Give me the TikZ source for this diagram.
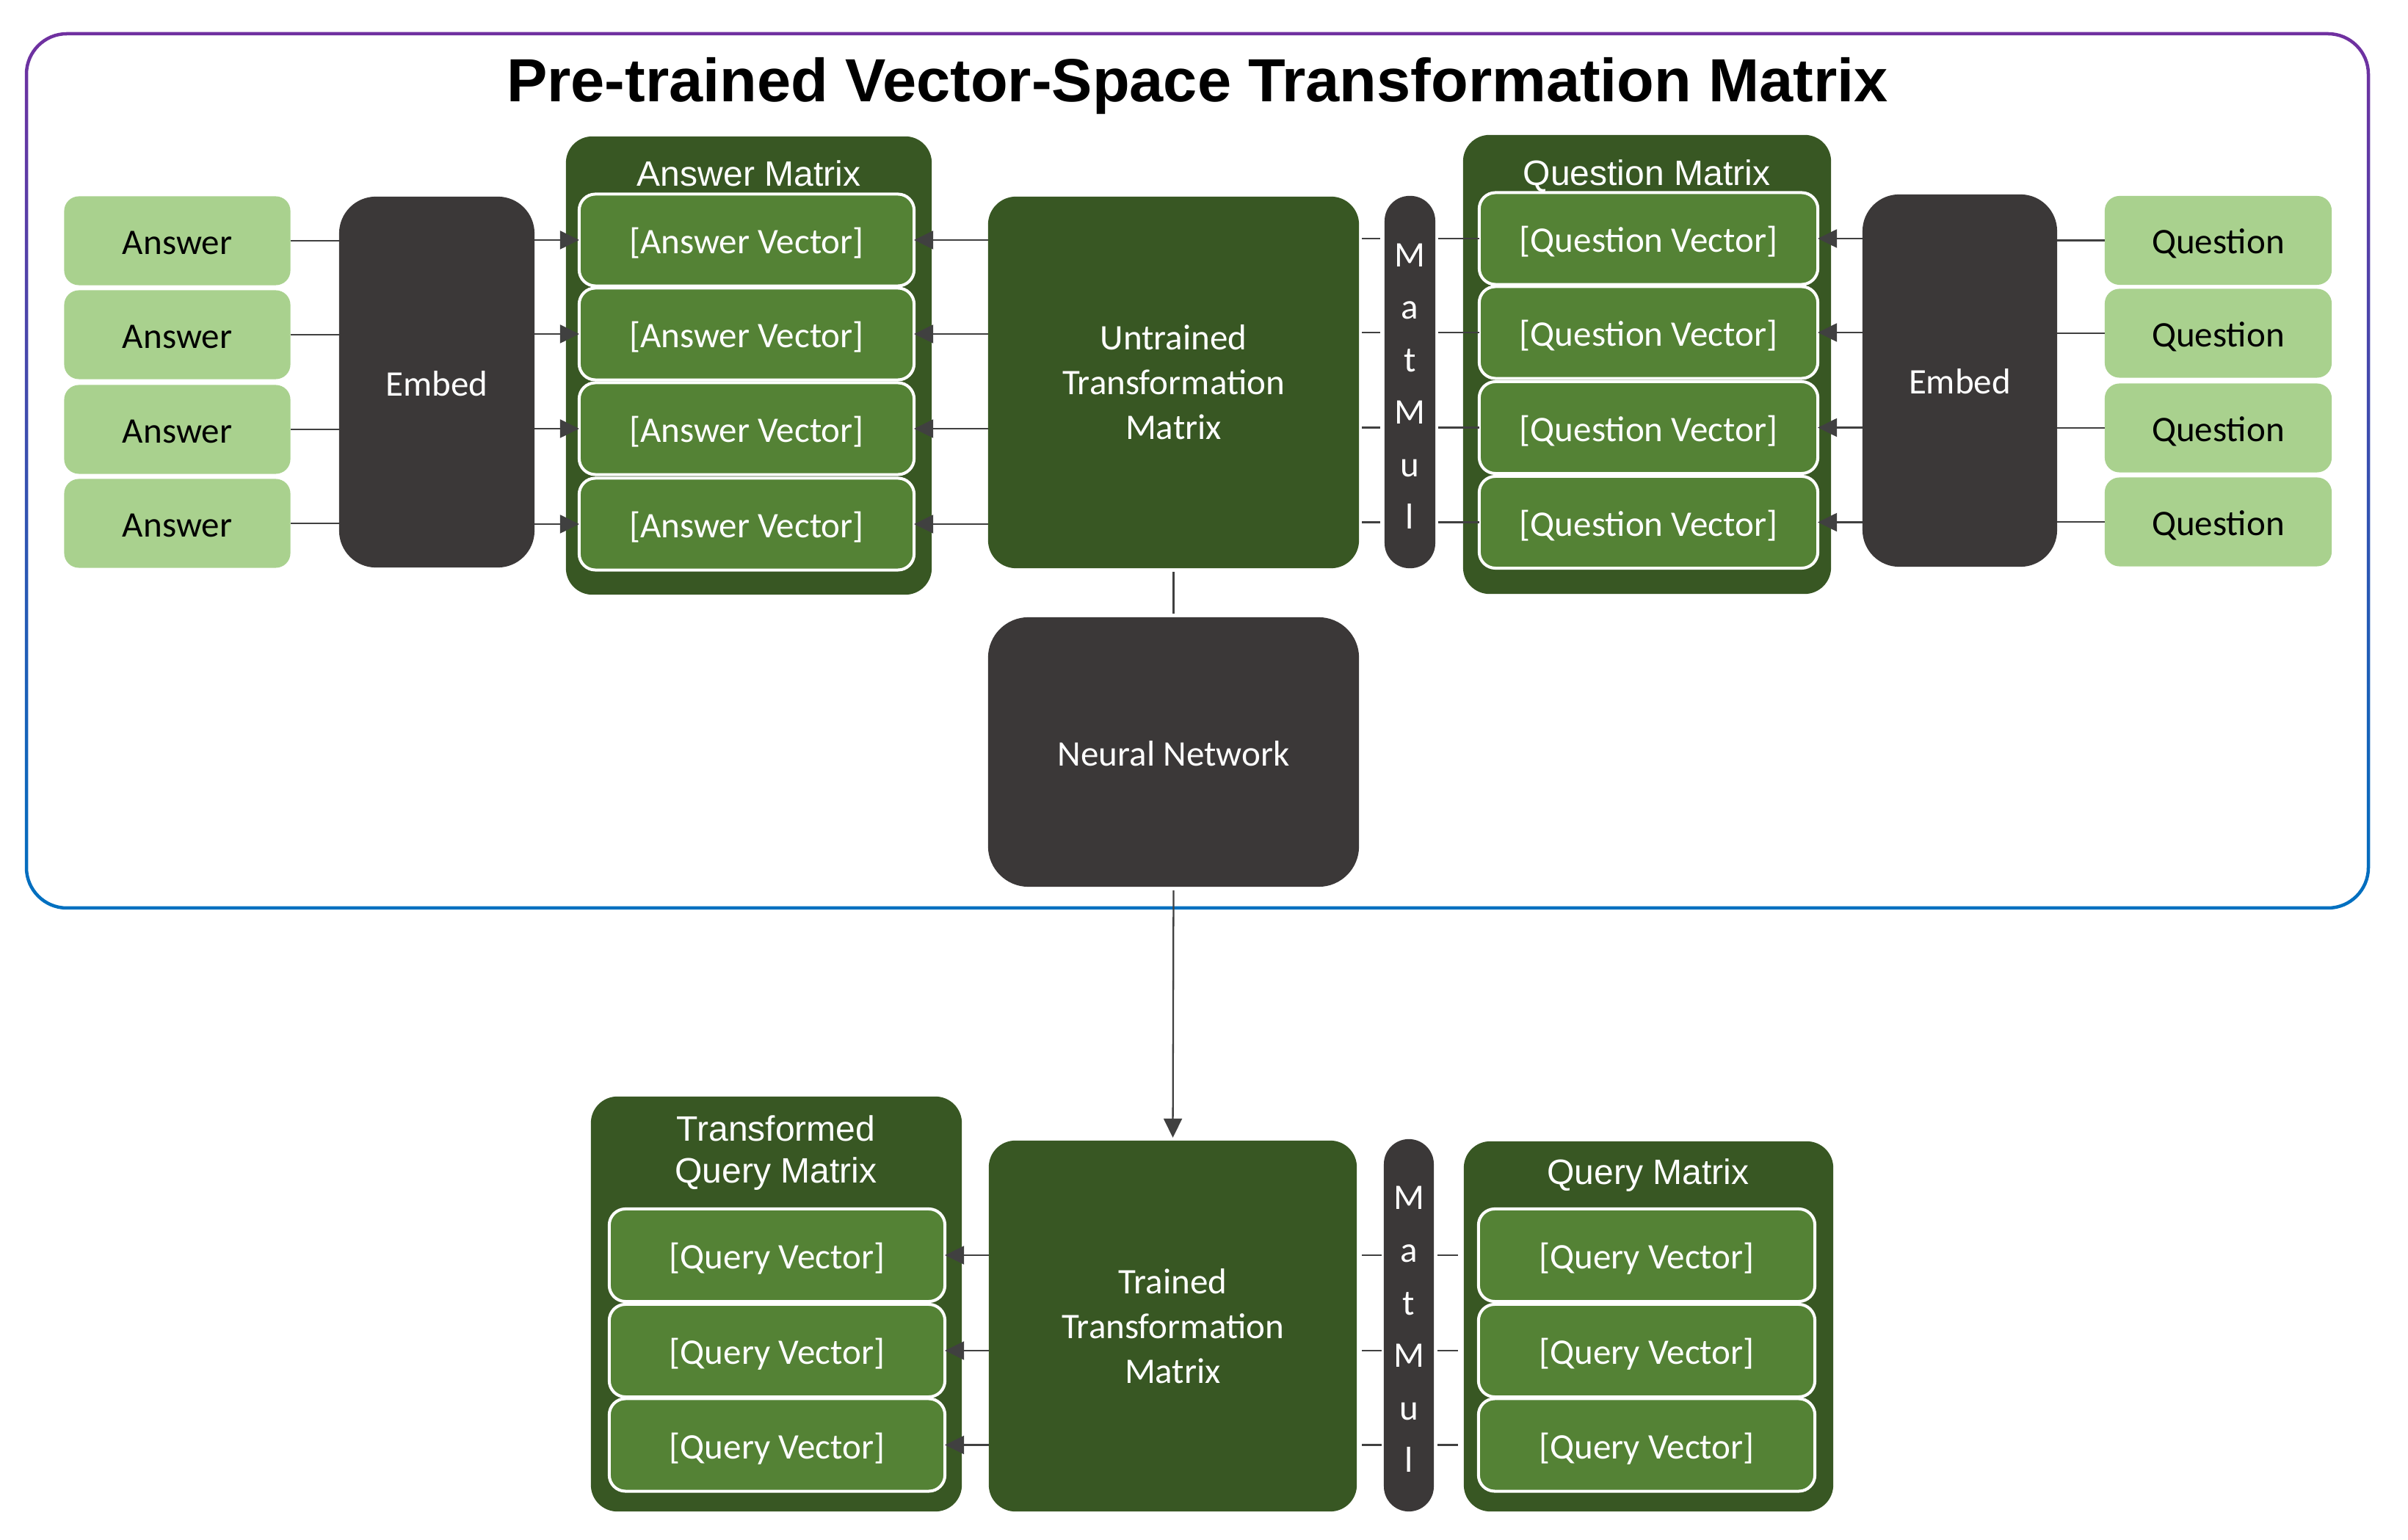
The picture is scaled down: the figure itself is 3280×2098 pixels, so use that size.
\documentclass[tikz,border=0pt]{standalone}
\usepackage{fontspec}
\setmainfont{Carlito}
\newfontfamily\arialfont{Liberation Sans}
\usetikzlibrary{arrows.meta}
\definecolor{lgreen}{HTML}{A9D18E}
\definecolor{dgreen}{HTML}{385723}
\definecolor{vgreen}{HTML}{548235}
\definecolor{dgrey}{HTML}{3B3838}
\definecolor{linec}{HTML}{404040}
\definecolor{fpurple}{HTML}{7030A0}
\definecolor{fblue}{HTML}{0070C0}
\newcommand\bodyfont{\fontsize{13.94pt}{17.36pt}\selectfont}
\newcommand\grpfont{\arialfont\fontsize{13.66pt}{16.2pt}\selectfont}
\newcommand\titlefont{\arialfont\bfseries\fontsize{23.6pt}{28pt}\selectfont}
\begin{document}
\begin{tikzpicture}[x=0.01cm,y=-0.01cm,
  every node/.style={inner sep=0pt, outer sep=0pt},
  oneline/.style={text height=0.37cm, text depth=0cm},
  lg/.style={fill=lgreen, rounded corners=0.2cm, text=black, font=\bodyfont, oneline, minimum width=3.08cm, minimum height=1.21cm},
  dk/.style={fill=dgrey, rounded corners=0.5cm, text=white, font=\bodyfont, align=center},
  gbox/.style={fill=dgreen, rounded corners=0.38cm, text=white, font=\bodyfont, align=center},
  grp/.style={fill=dgreen, rounded corners=0.36cm},
  grptitle/.style={font=\grpfont, text=white, anchor=base},
  vec/.style={fill=vgreen, draw=white, line width=1.15pt, rounded corners=0.22cm, text=white, font=\bodyfont, oneline, minimum height=1.25cm},
  pill/.style={fill=dgrey, rounded corners=0.34cm},
  pilltxt/.style={font=\bodyfont, text=white, anchor=base},
  conn/.style={draw=linec, line width=0.65pt},
  arr/.style={conn, -{Triangle[length=0.26cm,width=0.25cm]}}
]
\fill[white] (0,0) rectangle (3280,2098);
\useasboundingbox (0,0) rectangle (3280,2098);

% frame with vertical gradient
\shade[top color=fpurple, bottom color=fblue, even odd rule]
  [rounded corners=0.5725cm] (33.75,43.75) rectangle (3228.25,1239.25)
  [rounded corners=0.5275cm] (38.25,48.25) rectangle (3223.75,1234.75);

\node[font=\titlefont, anchor=base] (title) at (1631,139) {Pre-trained Vector-Space Transformation Matrix};

% left inputs
\foreach \i/\y in {1/328,2/456,3/585,4/713}
  \node[lg] (a\i) at (241.5,\y) {Answer};
\node[dk, oneline, minimum width=2.66cm, minimum height=5.05cm] (embL) at (595,520.5) {Embed};

% answer matrix
\node[grp, minimum width=4.98cm, minimum height=6.24cm] (amat) at (1020,498) {};
\node[grptitle] (amatt) at (1020,254) {Answer Matrix};
\foreach \i/\y in {1/327,2/455,3/584,4/714}
  \node[vec, minimum width=4.56cm] (av\i) at (1017,\y) {[Answer Vector]};

% untrained
\node[gbox, minimum width=5.05cm, minimum height=5.06cm] (unt) at (1598.5,521) {Untrained\\Transformation\\Matrix};
\node[pill, minimum width=0.69cm, minimum height=5.07cm] (mm1) at (1920.5,520.5) {};
\foreach \c [count=\k from 0] in {M,a,t,M,u,l}
  \node[pilltxt] (mmA\k) at (1920.5,363.5+71.4*\k) {\c};

% question matrix
\node[grp, minimum width=5.01cm, minimum height=6.25cm] (qmat) at (2243.5,496.5) {};
\node[grptitle] (qmatt) at (2243,253) {Question Matrix};
\foreach \i/\y in {1/325,2/453,3/582.5,4/711.5}
  \node[vec, minimum width=4.61cm] (qv\i) at (2245.5,\y) {[Question Vector]};

\node[dk, oneline, minimum width=2.65cm, minimum height=5.07cm] (embR) at (2669.5,518.5) {Embed};
\foreach \i/\y in {1/327.5,2/454,3/583,4/711}
  \node[lg, minimum width=3.09cm] (q\i) at (3021.5,\y) {Question};

% neural network
\node[dk, oneline, rounded corners=0.55cm, minimum width=5.05cm, minimum height=3.67cm] (nn) at (1598.5,1024.5) {Neural Network};

% bottom
\node[grp, minimum width=5.05cm, minimum height=5.65cm] (tqm) at (1057.5,1776.5) {};
\node[grptitle] (tqmt1) at (1057,1555) {Transformed};
\node[grptitle] (tqmt2) at (1057,1612) {Query Matrix};
\foreach \i/\y in {1/1710,2/1840,3/1968.5}
  \node[vec, minimum width=4.57cm, minimum height=1.26cm] (lq\i) at (1058.5,\y) {[Query Vector]};

\node[gbox, rounded corners=0.36cm, minimum width=5.01cm, minimum height=5.05cm] (tr) at (1597.5,1806.5) {Trained\\Transformation\\Matrix};
\node[pill, minimum width=0.68cm, minimum height=5.07cm] (mm2) at (1919,1805.5) {};
\foreach \c [count=\k from 0] in {M,a,t,M,u,l}
  \node[pilltxt] (mmB\k) at (1919,1648+71.5*\k) {\c};

\node[grp, minimum width=5.03cm, minimum height=5.04cm] (qmat2) at (2245.5,1807) {};
\node[grptitle] (qmat2t) at (2245,1614) {Query Matrix};
\foreach \i/\y in {1/1710,2/1840,3/1968.5}
  \node[vec, minimum width=4.58cm, minimum height=1.26cm] (rq\i) at (2243,\y) {[Query Vector]};

% connectors top
\foreach \i in {1,...,4} {
  \draw[conn] (a\i.east) -- (a\i.east -| embL.west);
  \draw[arr] (embL.east |- av\i) -- (av\i.west);
  \draw[arr] (unt.west |- av\i) -- (av\i.east);
  \draw[conn, shorten <=0.04cm, shorten >=0.06cm] (unt.east |- qv\i) -- (mm1.west |- qv\i);
  \draw[conn, shorten <=0.04cm] (mm1.east |- qv\i) -- (qv\i.west);
  \draw[arr] (embR.west |- qv\i) -- (qv\i.east);
  \draw[conn] (q\i.west) -- (q\i.west -| embR.east);
}
\draw[conn, shorten <=0.05cm, shorten >=0.05cm] (unt.south) -- (nn.north);
\draw[arr, shorten <=0.05cm, shorten >=0.04cm] (nn.south) -- (tr.north);

% connectors bottom
\foreach \i in {1,2,3} {
  \draw[arr] (tr.west |- lq\i) -- (lq\i.east);
  \draw[conn, shorten <=0.07cm, shorten >=0.03cm] (tr.east |- rq\i) -- (mm2.west |- rq\i);
  \draw[conn, shorten <=0.05cm, shorten >=0.08cm] (mm2.east |- rq\i) -- (qmat2.west |- rq\i);
}
\end{tikzpicture}
\end{document}
